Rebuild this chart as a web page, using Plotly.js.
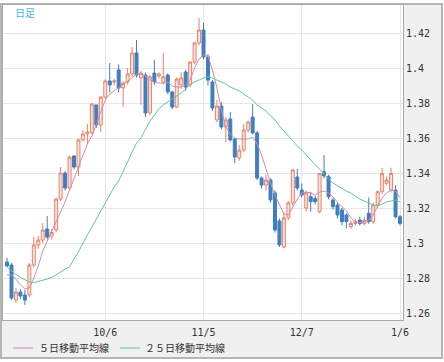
<!DOCTYPE html>
<html>
<head>
<meta charset="utf-8">
<script src="https://cdn.plot.ly/plotly-3.0.1.min.js"></script>
<style>
  html, body { margin: 0; padding: 0; background: #ffffff; }
  #wrap { position: relative; width: 444px; height: 362px; overflow: hidden; }
  #panel { position: absolute; left: 0; top: 3px; width: 443px; height: 356px; box-sizing: border-box;
           border: 2px solid #b6b6b6; background: #f0f0f0; }
  #chart { position: absolute; left: 0; top: 0; width: 444px; height: 362px; }
</style>
</head>
<body>
<div id="wrap">
  <div id="panel"></div>
  <div id="chart"></div>
</div>
<script>
// ---- data ----
const seriesLabel = "日足";
const ma5Name = "５日移動平均線";
const ma25Name = "２５日移動平均線";

const tickPositions = [22, 44, 66, 88];
const tickLabels = ["10/6", "11/5", "12/7", "1/6"];
const yTicks = [1.26, 1.28, 1.3, 1.32, 1.34, 1.36, 1.38, 1.4, 1.42];

const openP = [
  1.2891, 1.2874, 1.2674, 1.2720, 1.2703, 1.2703, 1.2874, 1.2989, 1.3017, 1.3080,
  1.3040, 1.3074, 1.3251, 1.3400, 1.3314, 1.3497, 1.3434, 1.3589, 1.3623, 1.3630,
  1.3789, 1.3674, 1.3834, 1.3926, 1.3920, 1.3989, 1.3886, 1.3920, 1.3966, 1.4086,
  1.3943, 1.3960, 1.3743, 1.3971, 1.3954, 1.3920, 1.3960, 1.3863, 1.3777, 1.3903,
  1.3977, 1.3903, 1.4034, 1.4143, 1.4217, 1.4063, 1.3920, 1.3703, 1.3783, 1.3663,
  1.3709, 1.3594, 1.3486, 1.3531, 1.3646, 1.3720, 1.3629, 1.3371, 1.3331, 1.3360,
  1.3286, 1.3126, 1.2977, 1.3143, 1.3229, 1.3377, 1.3303, 1.3200, 1.3265, 1.3255,
  1.3179, 1.3407, 1.3379, 1.3246, 1.3217, 1.3189, 1.3160, 1.3093, 1.3112, 1.3131,
  1.3112, 1.3170, 1.3122, 1.3217, 1.3293, 1.3341, 1.3303, 1.3303, 1.3150
];
const highP = [
  1.2915, 1.2885, 1.2743, 1.2737, 1.2731, 1.2885, 1.3034, 1.3040, 1.3114, 1.3154,
  1.3080, 1.3260, 1.3434, 1.3410, 1.3500, 1.3503, 1.3595, 1.3646, 1.3680, 1.3800,
  1.3789, 1.3840, 1.3935, 1.4029, 1.3940, 1.4020, 1.3925, 1.4000, 1.4120, 1.4160,
  1.3985, 1.3975, 1.3960, 1.4046, 1.3975, 1.4086, 1.3970, 1.3870, 1.3945, 1.3977,
  1.3990, 1.4040, 1.4150, 1.4286, 1.4257, 1.4080, 1.3930, 1.3817, 1.3806, 1.3720,
  1.3749, 1.3600, 1.3560, 1.3680, 1.3700, 1.3794, 1.3640, 1.3380, 1.3390, 1.3370,
  1.3300, 1.3140, 1.3180, 1.3240, 1.3423, 1.3423, 1.3340, 1.3300, 1.3293, 1.3270,
  1.3400, 1.3503, 1.3390, 1.3260, 1.3230, 1.3200, 1.3170, 1.3130, 1.3140, 1.3150,
  1.3150, 1.3260, 1.3230, 1.3300, 1.3430, 1.3380, 1.3430, 1.3330, 1.3160
];
const lowP = [
  1.2865, 1.2674, 1.2657, 1.2680, 1.2646, 1.2690, 1.2860, 1.2966, 1.3000, 1.3020,
  1.3020, 1.3060, 1.3240, 1.3300, 1.3300, 1.3420, 1.3383, 1.3580, 1.3571, 1.3620,
  1.3657, 1.3634, 1.3820, 1.3860, 1.3900, 1.3860, 1.3777, 1.3905, 1.3950, 1.3945,
  1.3790, 1.3720, 1.3730, 1.3905, 1.3940, 1.3905, 1.3850, 1.3765, 1.3770, 1.3880,
  1.3870, 1.3890, 1.4020, 1.4130, 1.4050, 1.3900, 1.3755, 1.3690, 1.3650, 1.3577,
  1.3580, 1.3457, 1.3470, 1.3520, 1.3630, 1.3620, 1.3360, 1.3310, 1.3300, 1.3230,
  1.3060, 1.2977, 1.2970, 1.3130, 1.3210, 1.3300, 1.3260, 1.3180, 1.3179, 1.3220,
  1.3170, 1.3370, 1.3250, 1.3190, 1.3140, 1.3100, 1.3084, 1.3080, 1.3100, 1.3100,
  1.3100, 1.3110, 1.3110, 1.3200, 1.3280, 1.3330, 1.3290, 1.3140, 1.3100
];
const closeP = [
  1.2869, 1.2686, 1.2720, 1.2697, 1.2674, 1.2874, 1.2989, 1.3017, 1.3074, 1.3034,
  1.3060, 1.3251, 1.3400, 1.3314, 1.3491, 1.3434, 1.3589, 1.3623, 1.3635, 1.3794,
  1.3674, 1.3834, 1.3926, 1.3903, 1.3926, 1.3886, 1.3914, 1.3966, 1.4086, 1.3960,
  1.3971, 1.3743, 1.3949, 1.3920, 1.3966, 1.3950, 1.3863, 1.3777, 1.3937, 1.3943,
  1.3891, 1.4034, 1.4143, 1.4217, 1.4063, 1.3931, 1.3771, 1.3783, 1.3663, 1.3703,
  1.3589, 1.3491, 1.3531, 1.3646, 1.3691, 1.3629, 1.3371, 1.3331, 1.3360, 1.3246,
  1.3074, 1.2989, 1.3143, 1.3229, 1.3417, 1.3314, 1.3274, 1.3286, 1.3236, 1.3236,
  1.3398, 1.3383, 1.3265, 1.3208, 1.3160, 1.3122, 1.3122, 1.3112, 1.3122, 1.3112,
  1.3131, 1.3122, 1.3217, 1.3293, 1.3398, 1.3360, 1.3398, 1.3150, 1.3112
];
const ma5 = [
  1.2817, 1.2817, 1.2794, 1.2760, 1.2737, 1.2743, 1.2800, 1.2869, 1.2954, 1.3011,
  1.3069, 1.3120, 1.3177, 1.3234, 1.3303, 1.3371, 1.3434, 1.3497, 1.3566, 1.3611,
  1.3680, 1.3743, 1.3817, 1.3851, 1.3869, 1.3886, 1.3903, 1.3920, 1.3943, 1.3966,
  1.3966, 1.3954, 1.3931, 1.3920, 1.3914, 1.3914, 1.3920, 1.3897, 1.3891, 1.3891,
  1.3903, 1.3931, 1.4000, 1.4051, 1.4074, 1.4069, 1.3989, 1.3886, 1.3760, 1.3663,
  1.3623, 1.3600, 1.3594, 1.3594, 1.3594, 1.3606, 1.3566, 1.3503, 1.3417, 1.3343,
  1.3274, 1.3217, 1.3166, 1.3160, 1.3206, 1.3251, 1.3286, 1.3291, 1.3286, 1.3274,
  1.3291, 1.3297, 1.3286, 1.3263, 1.3234, 1.3206, 1.3183, 1.3143, 1.3120, 1.3117,
  1.3120, 1.3131, 1.3160, 1.3211, 1.3257, 1.3286, 1.3303, 1.3297, 1.3257
];
const ma25 = [
  1.2863, 1.2840, 1.2820, 1.2803, 1.2789, 1.2777, 1.2774, 1.2780, 1.2786, 1.2794,
  1.2803, 1.2817, 1.2834, 1.2851, 1.2863, 1.2909, 1.2949, 1.3000, 1.3046, 1.3097,
  1.3143, 1.3189, 1.3229, 1.3274, 1.3320, 1.3354, 1.3406, 1.3463, 1.3520, 1.3571,
  1.3600, 1.3646, 1.3697, 1.3731, 1.3766, 1.3789, 1.3806, 1.3823, 1.3840, 1.3857,
  1.3880, 1.3909, 1.3920, 1.3931, 1.3943, 1.3949, 1.3943, 1.3931, 1.3920, 1.3909,
  1.3891, 1.3880, 1.3869, 1.3851, 1.3834, 1.3817, 1.3789, 1.3771, 1.3754, 1.3726,
  1.3703, 1.3669, 1.3640, 1.3606, 1.3577, 1.3554, 1.3531, 1.3503, 1.3474, 1.3446,
  1.3417, 1.3389, 1.3366, 1.3343, 1.3326, 1.3309, 1.3297, 1.3286, 1.3269, 1.3251,
  1.3240, 1.3229, 1.3217, 1.3211, 1.3223, 1.3234, 1.3240, 1.3246, 1.3234
];

// ---- chart ----
const xIdx = closeP.map((_, i) => i);
const upColor = '#e8826a', upFill = '#fbe3dc';
const downColor = '#3f7fc0';
const ma5Color = '#cf8cb0', ma25Color = '#5acb92';

const traces = [
  {
    type: 'candlestick', name: seriesLabel, x: xIdx,
    open: openP, high: highP, low: lowP, close: closeP,
    increasing: { line: { color: upColor, width: 1 }, fillcolor: upFill },
    decreasing: { line: { color: downColor, width: 1 }, fillcolor: downColor },
    whiskerwidth: 0, showlegend: false, hoverinfo: 'skip'
  },
  { type: 'scatter', mode: 'lines', name: ma5Name, x: xIdx, y: ma5,
    line: { color: ma5Color, width: 1 }, showlegend: false, hoverinfo: 'skip' },
  { type: 'scatter', mode: 'lines', name: ma25Name, x: xIdx, y: ma25,
    line: { color: ma25Color, width: 1 }, showlegend: false, hoverinfo: 'skip' }
];

const W = 400, H = 315;           // plot area size
const px = v => (v - 3) / W;      // page x -> paper x
const py = v => (320 - v) / H;    // page y -> paper y
const tickFont = { family: 'DejaVu Sans Mono, Liberation Mono, monospace', size: 10, color: '#333333' };
const cjkFont = { family: 'Noto Sans CJK JP, sans-serif', size: 10, color: '#333333' };

const layout = {
  width: 444, height: 362,
  margin: { l: 3, r: 41, t: 5, b: 42, pad: 0 },
  paper_bgcolor: 'rgba(0,0,0,0)', plot_bgcolor: '#ffffff',
  showlegend: false, boxgap: 0.3, boxgroupgap: 0.05,
  xaxis: {
    type: 'linear', range: [-0.9, 88.67], fixedrange: true,
    tickmode: 'array', tickvals: tickPositions, ticktext: tickLabels,
    showgrid: true, gridcolor: '#e6e6e6', gridwidth: 1, zeroline: false,
    showline: true, linecolor: '#a8a8a8', linewidth: 1, mirror: true,
    ticks: 'outside', ticklen: 3, tickcolor: 'rgba(0,0,0,0)',
    tickfont: tickFont, rangeslider: { visible: false }
  },
  yaxis: {
    side: 'right', range: [1.256, 1.436], fixedrange: true,
    tickmode: 'array', tickvals: yTicks, ticktext: yTicks.map(v => String(v)),
    showgrid: true, gridcolor: '#e6e6e6', gridwidth: 1, zeroline: false,
    showline: true, linecolor: '#a8a8a8', linewidth: 1, mirror: true,
    ticks: '', tickfont: tickFont
  },
  shapes: [
    { type: 'line', xref: 'paper', yref: 'paper', x0: px(13), x1: px(33), y0: py(348), y1: py(348),
      line: { color: ma5Color, width: 1 } },
    { type: 'line', xref: 'paper', yref: 'paper', x0: px(120), x1: px(140), y0: py(348), y1: py(348),
      line: { color: ma25Color, width: 1 } }
  ],
  annotations: [
    { xref: 'paper', yref: 'paper', x: px(13), y: py(12.5), xanchor: 'left', yanchor: 'middle',
      text: seriesLabel, showarrow: false, font: { family: 'Noto Sans CJK JP, sans-serif', size: 10, color: '#45b6ea' } },
    { xref: 'paper', yref: 'paper', x: px(37), y: py(348), xanchor: 'left', yanchor: 'middle',
      text: ma5Name, showarrow: false, font: cjkFont },
    { xref: 'paper', yref: 'paper', x: px(143), y: py(348), xanchor: 'left', yanchor: 'middle',
      text: ma25Name, showarrow: false, font: cjkFont }
  ]
};

Plotly.newPlot('chart', traces, layout, { displayModeBar: false, staticPlot: true });
</script>
</body>
</html>
